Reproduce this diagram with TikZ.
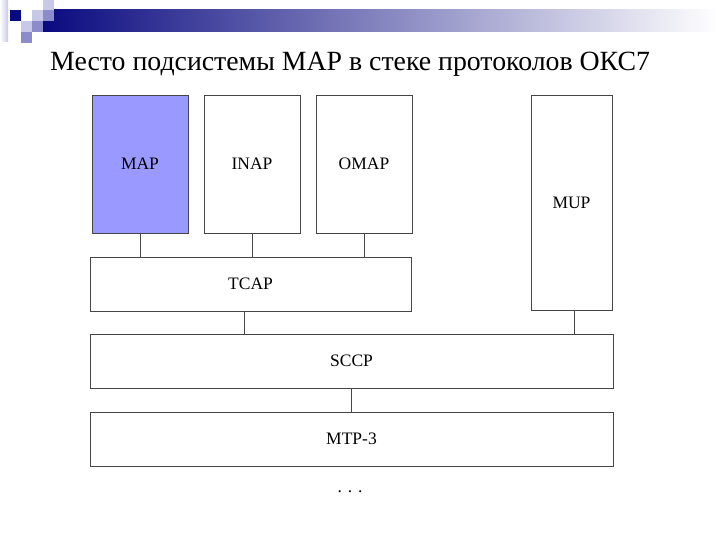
\documentclass[tikz,border=0pt]{standalone}
\usepackage{fontspec}
\setmainfont{Liberation Serif}
\usetikzlibrary{calc}
\usetikzlibrary{positioning}

\definecolor{navyband}{RGB}{10,10,128}
\definecolor{midsq}{RGB}{140,140,204}
\definecolor{lightsq}{RGB}{200,200,232}
\definecolor{mapfill}{RGB}{153,153,255}
\definecolor{edge}{RGB}{70,70,70}

\tikzset{
    layer/.style={draw=edge, line width=0.8pt, fill=white, inner sep=0pt, font=\fontsize{17.5}{20}\selectfont},
    link/.style={draw=edge, line width=0.8pt}
}

\begin{document}
\begin{tikzpicture}[x=1pt, y=-1pt]
    \useasboundingbox (0,0) rectangle (720,540);

    % heading band
    \shade[left color=white, right color=lightsq] (0,0) rectangle (8,42);
    \shade[left color=navyband, right color=white] (43,10) rectangle (718,32);
    \fill[navyband] (10,10) rectangle +(11,11);
    \fill[lightsq] (32,10) rectangle +(11,11);
    \fill[lightsq] (43,0) rectangle +(11,10);
    \fill[midsq] (43,10) rectangle +(11,11);
    \fill[lightsq] (21,21) rectangle +(11,11);
    \fill[midsq] (32,21) rectangle +(11,11);
    \fill[midsq] (21,32) rectangle +(11,11);

    \node[anchor=base west, inner sep=0pt, font=\fontsize{27.8}{32}\selectfont] (title) at (50,71) {Место подсистемы MAP в стеке протоколов ОКС7};

    % application parts
    \node[layer, fill=mapfill, minimum width=96, minimum height=138] (map) at (140,164) {MAP};
    \node[layer, minimum width=96, minimum height=138] (inap) at (252,164) {INAP};
    \node[layer, minimum width=96, minimum height=138] (omap) at (364,164) {OMAP};
    \node[layer, minimum width=81, minimum height=215] (mup) at (571.5,202.5) {MUP};

    \node[layer, minimum width=321, minimum height=54] (tcap) at (250.5,284) {TCAP};
    \node[layer, minimum width=523, minimum height=54] (sccp) at (351.5,361) {SCCP};
    \node[layer, minimum width=523, minimum height=54] (mtp) at (351.5,439) {MTP-3};
    \node[font=\fontsize{17.5}{20}\selectfont] (more) at (350,492) {. . .};

    \draw[link] (map.south) -- (map.south |- tcap.north);
    \draw[link] (inap.south) -- (inap.south |- tcap.north);
    \draw[link] (omap.south) -- (omap.south |- tcap.north);
    \draw[link] ($(tcap.south)+(-6,0)$) coordinate (tdown) -- (tdown |- sccp.north);
    \draw[link] ($(mup.south)+(2.5,0)$) coordinate (mdown) -- (mdown |- sccp.north);
    \draw[link] (sccp.south) -- (mtp.north);
\end{tikzpicture}
\end{document}
